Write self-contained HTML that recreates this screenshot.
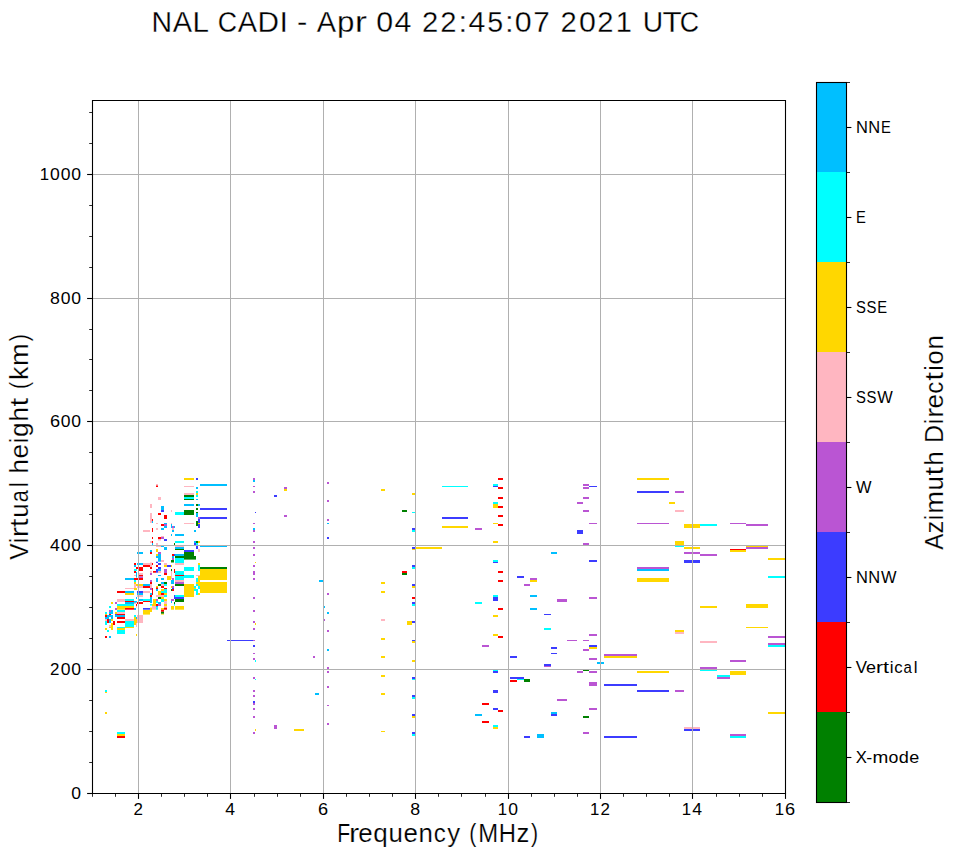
<!DOCTYPE html>
<html><head><meta charset="utf-8"><style>
html,body{margin:0;padding:0;background:#fff;overflow:hidden}
svg{display:block}
text{font-family:"Liberation Sans",sans-serif;fill:#000}
</style></head><body>
<svg width="958" height="857" viewBox="0 0 958 857">
<rect width="958" height="857" fill="#fff"/>
<rect x="184.0" y="478.0" width="10.0" height="2.0" fill="#ffd700"/>
<rect x="196.0" y="478.0" width="2.0" height="2.0" fill="#3c3cff"/>
<rect x="200.0" y="484.0" width="27.0" height="2.0" fill="#00bfff"/>
<rect x="156.0" y="484.0" width="2.0" height="1.5" fill="#ffb6c1"/>
<rect x="156.0" y="485.5" width="2.0" height="1.5" fill="#ff0000"/>
<rect x="184.0" y="486.0" width="10.0" height="1.0" fill="#ffb6c1"/>
<rect x="196.0" y="487.0" width="2.0" height="2.0" fill="#00bfff"/>
<rect x="196.0" y="491.0" width="2.0" height="2.0" fill="#00ffff"/>
<rect x="184.0" y="493.0" width="10.0" height="2.0" fill="#ffb6c1"/>
<rect x="196.0" y="493.0" width="2.0" height="2.0" fill="#ffd700"/>
<rect x="184.0" y="495.0" width="10.0" height="2.0" fill="#008000"/>
<rect x="196.0" y="495.0" width="2.0" height="2.0" fill="#00ffff"/>
<rect x="158.0" y="497.0" width="3.0" height="3.0" fill="#ffb6c1"/>
<rect x="184.0" y="497.0" width="10.0" height="2.0" fill="#00ffff"/>
<rect x="184.0" y="499.0" width="10.0" height="1.0" fill="#008000"/>
<rect x="196.0" y="499.0" width="2.0" height="1.0" fill="#00bfff"/>
<rect x="150.0" y="504.0" width="2.0" height="4.0" fill="#ffb6c1"/>
<rect x="184.0" y="504.0" width="10.0" height="2.0" fill="#00bfff"/>
<rect x="196.0" y="504.0" width="2.0" height="2.0" fill="#008000"/>
<rect x="198.0" y="504.0" width="2.0" height="2.0" fill="#00bfff"/>
<rect x="161.0" y="506.0" width="3.0" height="4.0" fill="#00bfff"/>
<rect x="161.0" y="510.0" width="3.0" height="2.0" fill="#3c3cff"/>
<rect x="196.0" y="508.0" width="2.0" height="2.0" fill="#008000"/>
<rect x="200.0" y="508.0" width="27.0" height="2.0" fill="#3c3cff"/>
<rect x="171.0" y="510.0" width="1.0" height="2.0" fill="#ffb6c1"/>
<rect x="184.0" y="510.0" width="10.0" height="5.0" fill="#008000"/>
<rect x="175.0" y="512.0" width="9.0" height="3.0" fill="#00ffff"/>
<rect x="158.0" y="513.0" width="3.0" height="2.0" fill="#ff0000"/>
<rect x="196.0" y="512.0" width="2.0" height="1.0" fill="#008000"/>
<rect x="196.0" y="513.0" width="2.0" height="4.0" fill="#00bfff"/>
<rect x="150.0" y="513.0" width="2.0" height="10.0" fill="#ffb6c1"/>
<rect x="164.0" y="515.0" width="3.0" height="4.0" fill="#ff0000"/>
<rect x="152.0" y="519.0" width="1.0" height="2.0" fill="#ff0000"/>
<rect x="152.0" y="521.0" width="1.0" height="2.0" fill="#00bfff"/>
<rect x="198.0" y="517.0" width="2.0" height="2.0" fill="#ba55d3"/>
<rect x="200.0" y="517.0" width="27.0" height="2.0" fill="#3c3cff"/>
<rect x="198.0" y="519.0" width="2.0" height="9.0" fill="#3c3cff"/>
<rect x="196.0" y="521.0" width="2.0" height="5.0" fill="#008000"/>
<rect x="198.0" y="523.0" width="2.0" height="1.0" fill="#ffd700"/>
<rect x="156.0" y="523.0" width="2.0" height="1.0" fill="#ffb6c1"/>
<rect x="184.0" y="523.0" width="10.0" height="1.0" fill="#ffb6c1"/>
<rect x="171.0" y="523.0" width="1.0" height="1.0" fill="#ffb6c1"/>
<rect x="161.0" y="524.0" width="3.0" height="2.0" fill="#ff0000"/>
<rect x="164.0" y="523.0" width="3.0" height="5.0" fill="#00bfff"/>
<rect x="164.0" y="524.0" width="3.0" height="2.0" fill="#ba55d3"/>
<rect x="171.0" y="524.0" width="1.0" height="4.0" fill="#00bfff"/>
<rect x="172.0" y="526.0" width="2.0" height="2.0" fill="#ba55d3"/>
<rect x="174.0" y="526.0" width="1.0" height="2.0" fill="#00bfff"/>
<rect x="172.0" y="528.0" width="2.0" height="2.0" fill="#ffb6c1"/>
<rect x="161.0" y="528.0" width="3.0" height="2.0" fill="#00bfff"/>
<rect x="156.0" y="528.0" width="2.0" height="2.0" fill="#ffb6c1"/>
<rect x="152.0" y="528.0" width="1.0" height="4.0" fill="#ff0000"/>
<rect x="143.0" y="530.0" width="7.0" height="2.0" fill="#ffb6c1"/>
<rect x="172.0" y="530.0" width="2.0" height="2.0" fill="#00bfff"/>
<rect x="194.0" y="530.0" width="2.0" height="2.0" fill="#00bfff"/>
<rect x="171.0" y="534.0" width="1.0" height="2.0" fill="#00bfff"/>
<rect x="175.0" y="534.0" width="9.0" height="2.0" fill="#00bfff"/>
<rect x="161.0" y="536.0" width="3.0" height="1.0" fill="#ffb6c1"/>
<rect x="152.0" y="537.0" width="1.0" height="2.0" fill="#ff0000"/>
<rect x="158.0" y="537.0" width="3.0" height="2.0" fill="#ff0000"/>
<rect x="161.0" y="537.0" width="3.0" height="2.0" fill="#ba55d3"/>
<rect x="164.0" y="539.0" width="3.0" height="1.0" fill="#3c3cff"/>
<rect x="381.0" y="489.0" width="4.0" height="2.0" fill="#ffd700"/>
<rect x="412.0" y="493.0" width="3.0" height="2.0" fill="#ffd700"/>
<rect x="402.0" y="510.0" width="5.0" height="2.0" fill="#008000"/>
<rect x="412.0" y="512.0" width="3.0" height="1.0" fill="#00ffff"/>
<rect x="442.0" y="486.0" width="26.0" height="1.0" fill="#00ffff"/>
<rect x="442.0" y="517.0" width="26.0" height="2.0" fill="#3c3cff"/>
<rect x="442.0" y="526.0" width="26.0" height="2.0" fill="#ffd700"/>
<rect x="412.0" y="528.0" width="3.0" height="2.0" fill="#3c3cff"/>
<rect x="412.0" y="530.0" width="3.0" height="2.0" fill="#00ffff"/>
<rect x="412.0" y="547.0" width="3.0" height="2.0" fill="#3c3cff"/>
<rect x="412.0" y="549.0" width="3.0" height="1.0" fill="#ffd700"/>
<rect x="416.0" y="547.0" width="26.0" height="2.0" fill="#ffd700"/>
<rect x="412.0" y="565.0" width="3.0" height="2.0" fill="#3c3cff"/>
<rect x="412.0" y="567.0" width="3.0" height="2.0" fill="#00ffff"/>
<rect x="402.0" y="571.0" width="5.0" height="2.0" fill="#ff0000"/>
<rect x="402.0" y="573.0" width="5.0" height="2.0" fill="#008000"/>
<rect x="381.0" y="582.0" width="4.0" height="2.0" fill="#ffd700"/>
<rect x="381.0" y="591.0" width="4.0" height="2.0" fill="#ffd700"/>
<rect x="381.0" y="638.0" width="4.0" height="2.0" fill="#ffd700"/>
<rect x="381.0" y="656.0" width="4.0" height="2.0" fill="#ffd700"/>
<rect x="381.0" y="675.0" width="4.0" height="2.0" fill="#ffd700"/>
<rect x="381.0" y="619.0" width="4.0" height="2.0" fill="#ffb6c1"/>
<rect x="412.0" y="584.0" width="3.0" height="2.0" fill="#3c3cff"/>
<rect x="412.0" y="586.0" width="3.0" height="2.0" fill="#ffd700"/>
<rect x="412.0" y="597.0" width="3.0" height="2.0" fill="#ff0000"/>
<rect x="412.0" y="602.0" width="3.0" height="2.0" fill="#3c3cff"/>
<rect x="412.0" y="604.0" width="3.0" height="2.0" fill="#00ffff"/>
<rect x="412.0" y="621.0" width="3.0" height="2.0" fill="#3c3cff"/>
<rect x="407.0" y="621.0" width="5.0" height="4.0" fill="#ffd700"/>
<rect x="412.0" y="640.0" width="3.0" height="1.0" fill="#3c3cff"/>
<rect x="412.0" y="641.0" width="3.0" height="2.0" fill="#ffd700"/>
<rect x="412.0" y="660.0" width="3.0" height="2.0" fill="#ffd700"/>
<rect x="412.0" y="677.0" width="3.0" height="2.0" fill="#3c3cff"/>
<rect x="412.0" y="679.0" width="3.0" height="1.0" fill="#00ffff"/>
<rect x="381.0" y="693.0" width="4.0" height="2.0" fill="#ffd700"/>
<rect x="381.0" y="731.0" width="4.0" height="1.0" fill="#ffd700"/>
<rect x="412.0" y="695.0" width="3.0" height="2.0" fill="#3c3cff"/>
<rect x="412.0" y="697.0" width="3.0" height="2.0" fill="#00ffff"/>
<rect x="412.0" y="714.0" width="3.0" height="2.0" fill="#3c3cff"/>
<rect x="412.0" y="716.0" width="3.0" height="2.0" fill="#ffd700"/>
<rect x="412.0" y="732.0" width="3.0" height="2.0" fill="#3c3cff"/>
<rect x="412.0" y="734.0" width="3.0" height="2.0" fill="#00ffff"/>
<rect x="498.0" y="478.0" width="5.0" height="2.0" fill="#ff0000"/>
<rect x="498.0" y="487.0" width="5.0" height="2.0" fill="#ff0000"/>
<rect x="498.0" y="497.0" width="5.0" height="2.0" fill="#ff0000"/>
<rect x="498.0" y="506.0" width="5.0" height="2.0" fill="#ff0000"/>
<rect x="498.0" y="515.0" width="5.0" height="2.0" fill="#ff0000"/>
<rect x="498.0" y="524.0" width="5.0" height="2.0" fill="#ff0000"/>
<rect x="498.0" y="571.0" width="5.0" height="2.0" fill="#ff0000"/>
<rect x="493.0" y="484.0" width="5.0" height="2.0" fill="#00ffff"/>
<rect x="493.0" y="486.0" width="5.0" height="1.0" fill="#3c3cff"/>
<rect x="493.0" y="502.0" width="5.0" height="2.0" fill="#00ffff"/>
<rect x="493.0" y="504.0" width="5.0" height="4.0" fill="#ffd700"/>
<rect x="493.0" y="523.0" width="5.0" height="1.0" fill="#ffd700"/>
<rect x="493.0" y="541.0" width="5.0" height="2.0" fill="#ffd700"/>
<rect x="493.0" y="560.0" width="5.0" height="2.0" fill="#00ffff"/>
<rect x="493.0" y="562.0" width="5.0" height="1.0" fill="#3c3cff"/>
<rect x="475.0" y="528.0" width="7.0" height="2.0" fill="#ba55d3"/>
<rect x="583.0" y="484.0" width="6.0" height="2.0" fill="#ba55d3"/>
<rect x="583.0" y="487.0" width="6.0" height="2.0" fill="#ba55d3"/>
<rect x="583.0" y="497.0" width="6.0" height="2.0" fill="#ba55d3"/>
<rect x="583.0" y="510.0" width="6.0" height="2.0" fill="#ba55d3"/>
<rect x="583.0" y="543.0" width="6.0" height="2.0" fill="#ba55d3"/>
<rect x="589.0" y="486.0" width="8.0" height="1.0" fill="#3c3cff"/>
<rect x="577.0" y="502.0" width="6.0" height="2.0" fill="#ba55d3"/>
<rect x="589.0" y="523.0" width="8.0" height="1.0" fill="#ba55d3"/>
<rect x="577.0" y="530.0" width="6.0" height="4.0" fill="#3c3cff"/>
<rect x="551.0" y="552.0" width="6.0" height="2.0" fill="#00bfff"/>
<rect x="589.0" y="560.0" width="8.0" height="2.0" fill="#3c3cff"/>
<rect x="517.0" y="576.0" width="7.0" height="2.0" fill="#3c3cff"/>
<rect x="530.0" y="578.0" width="7.0" height="2.0" fill="#ba55d3"/>
<rect x="530.0" y="580.0" width="7.0" height="2.0" fill="#ffd700"/>
<rect x="498.0" y="580.0" width="5.0" height="2.0" fill="#ff0000"/>
<rect x="524.0" y="584.0" width="6.0" height="2.0" fill="#ba55d3"/>
<rect x="493.0" y="595.0" width="5.0" height="2.0" fill="#00ffff"/>
<rect x="493.0" y="597.0" width="5.0" height="4.0" fill="#3c3cff"/>
<rect x="475.0" y="602.0" width="7.0" height="2.0" fill="#00ffff"/>
<rect x="530.0" y="595.0" width="7.0" height="2.0" fill="#00bfff"/>
<rect x="557.0" y="599.0" width="10.0" height="3.0" fill="#ba55d3"/>
<rect x="589.0" y="597.0" width="8.0" height="2.0" fill="#ba55d3"/>
<rect x="498.0" y="608.0" width="5.0" height="2.0" fill="#ff0000"/>
<rect x="530.0" y="608.0" width="7.0" height="2.0" fill="#00bfff"/>
<rect x="544.0" y="614.0" width="7.0" height="1.0" fill="#3c3cff"/>
<rect x="493.0" y="615.0" width="5.0" height="2.0" fill="#ffd700"/>
<rect x="544.0" y="628.0" width="7.0" height="2.0" fill="#00ffff"/>
<rect x="493.0" y="634.0" width="5.0" height="2.0" fill="#ffd700"/>
<rect x="498.0" y="636.0" width="5.0" height="2.0" fill="#ff0000"/>
<rect x="589.0" y="634.0" width="8.0" height="2.0" fill="#ba55d3"/>
<rect x="567.0" y="640.0" width="10.0" height="1.0" fill="#ba55d3"/>
<rect x="583.0" y="640.0" width="6.0" height="1.0" fill="#ba55d3"/>
<rect x="482.0" y="645.0" width="7.0" height="2.0" fill="#ba55d3"/>
<rect x="551.0" y="647.0" width="6.0" height="2.0" fill="#3c3cff"/>
<rect x="589.0" y="645.0" width="8.0" height="2.0" fill="#3c3cff"/>
<rect x="589.0" y="647.0" width="8.0" height="2.0" fill="#ffd700"/>
<rect x="583.0" y="649.0" width="6.0" height="2.0" fill="#ba55d3"/>
<rect x="551.0" y="653.0" width="6.0" height="1.0" fill="#3c3cff"/>
<rect x="510.0" y="656.0" width="7.0" height="2.0" fill="#3c3cff"/>
<rect x="589.0" y="658.0" width="8.0" height="2.0" fill="#ba55d3"/>
<rect x="544.0" y="664.0" width="7.0" height="2.0" fill="#3c3cff"/>
<rect x="544.0" y="666.0" width="7.0" height="1.0" fill="#ba55d3"/>
<rect x="493.0" y="670.0" width="5.0" height="1.0" fill="#00ffff"/>
<rect x="493.0" y="671.0" width="5.0" height="2.0" fill="#3c3cff"/>
<rect x="577.0" y="671.0" width="6.0" height="2.0" fill="#ba55d3"/>
<rect x="583.0" y="670.0" width="6.0" height="1.0" fill="#008000"/>
<rect x="589.0" y="671.0" width="8.0" height="2.0" fill="#ba55d3"/>
<rect x="510.0" y="677.0" width="14.0" height="2.0" fill="#3c3cff"/>
<rect x="517.0" y="679.0" width="7.0" height="1.0" fill="#00ffff"/>
<rect x="510.0" y="680.0" width="7.0" height="2.0" fill="#ff0000"/>
<rect x="524.0" y="679.0" width="6.0" height="3.0" fill="#008000"/>
<rect x="589.0" y="682.0" width="8.0" height="4.0" fill="#ba55d3"/>
<rect x="493.0" y="690.0" width="5.0" height="3.0" fill="#3c3cff"/>
<rect x="557.0" y="699.0" width="10.0" height="2.0" fill="#ba55d3"/>
<rect x="482.0" y="703.0" width="7.0" height="2.0" fill="#ff0000"/>
<rect x="493.0" y="708.0" width="5.0" height="2.0" fill="#3c3cff"/>
<rect x="498.0" y="710.0" width="5.0" height="2.0" fill="#ff0000"/>
<rect x="589.0" y="708.0" width="8.0" height="2.0" fill="#ba55d3"/>
<rect x="475.0" y="714.0" width="7.0" height="2.0" fill="#00bfff"/>
<rect x="551.0" y="712.0" width="6.0" height="2.0" fill="#00bfff"/>
<rect x="551.0" y="714.0" width="6.0" height="2.0" fill="#3c3cff"/>
<rect x="583.0" y="716.0" width="6.0" height="2.0" fill="#008000"/>
<rect x="482.0" y="721.0" width="7.0" height="2.0" fill="#ff0000"/>
<rect x="493.0" y="725.0" width="5.0" height="2.0" fill="#00ffff"/>
<rect x="493.0" y="727.0" width="5.0" height="2.0" fill="#ffd700"/>
<rect x="583.0" y="732.0" width="6.0" height="2.0" fill="#ba55d3"/>
<rect x="524.0" y="736.0" width="6.0" height="2.0" fill="#3c3cff"/>
<rect x="537.0" y="734.0" width="7.0" height="4.0" fill="#00bfff"/>
<rect x="637.0" y="478.0" width="32.0" height="2.0" fill="#ffd700"/>
<rect x="637.0" y="491.0" width="32.0" height="2.0" fill="#3c3cff"/>
<rect x="675.0" y="491.0" width="9.0" height="2.0" fill="#ba55d3"/>
<rect x="669.0" y="502.0" width="6.0" height="2.0" fill="#ffd700"/>
<rect x="675.0" y="510.0" width="9.0" height="2.0" fill="#ffb6c1"/>
<rect x="637.0" y="523.0" width="32.0" height="1.0" fill="#ba55d3"/>
<rect x="684.0" y="524.0" width="16.0" height="4.0" fill="#ffd700"/>
<rect x="700.0" y="524.0" width="17.0" height="2.0" fill="#00ffff"/>
<rect x="675.0" y="541.0" width="9.0" height="4.0" fill="#ffd700"/>
<rect x="675.0" y="545.0" width="9.0" height="2.0" fill="#00ffff"/>
<rect x="684.0" y="547.0" width="16.0" height="2.0" fill="#ffd700"/>
<rect x="684.0" y="552.0" width="16.0" height="2.0" fill="#ba55d3"/>
<rect x="700.0" y="554.0" width="17.0" height="2.0" fill="#ba55d3"/>
<rect x="684.0" y="560.0" width="16.0" height="3.0" fill="#3c3cff"/>
<rect x="637.0" y="567.0" width="32.0" height="2.0" fill="#ba55d3"/>
<rect x="637.0" y="569.0" width="32.0" height="2.0" fill="#00bfff"/>
<rect x="637.0" y="578.0" width="32.0" height="4.0" fill="#ffd700"/>
<rect x="700.0" y="606.0" width="17.0" height="2.0" fill="#ffd700"/>
<rect x="675.0" y="630.0" width="9.0" height="2.0" fill="#ffd700"/>
<rect x="675.0" y="632.0" width="9.0" height="2.0" fill="#ffb6c1"/>
<rect x="700.0" y="641.0" width="17.0" height="2.0" fill="#ffb6c1"/>
<rect x="604.0" y="654.0" width="33.0" height="2.0" fill="#ba55d3"/>
<rect x="604.0" y="656.0" width="33.0" height="2.0" fill="#ffd700"/>
<rect x="597.0" y="662.0" width="7.0" height="2.0" fill="#00bfff"/>
<rect x="700.0" y="667.0" width="17.0" height="2.0" fill="#ba55d3"/>
<rect x="700.0" y="669.0" width="17.0" height="2.0" fill="#00ffff"/>
<rect x="637.0" y="671.0" width="32.0" height="2.0" fill="#ffd700"/>
<rect x="717.0" y="675.0" width="13.0" height="2.0" fill="#00ffff"/>
<rect x="717.0" y="677.0" width="13.0" height="2.0" fill="#ba55d3"/>
<rect x="604.0" y="684.0" width="33.0" height="2.0" fill="#3c3cff"/>
<rect x="637.0" y="690.0" width="32.0" height="2.0" fill="#3c3cff"/>
<rect x="675.0" y="690.0" width="9.0" height="2.0" fill="#ba55d3"/>
<rect x="684.0" y="727.0" width="16.0" height="2.0" fill="#ffb6c1"/>
<rect x="684.0" y="729.0" width="16.0" height="2.0" fill="#3c3cff"/>
<rect x="604.0" y="736.0" width="33.0" height="2.0" fill="#3c3cff"/>
<rect x="730.0" y="523.0" width="16.0" height="1.0" fill="#ba55d3"/>
<rect x="746.0" y="524.0" width="22.0" height="2.0" fill="#ba55d3"/>
<rect x="746.0" y="546.0" width="22.0" height="1.0" fill="#ffd700"/>
<rect x="746.0" y="547.0" width="22.0" height="2.0" fill="#ba55d3"/>
<rect x="730.0" y="549.0" width="16.0" height="1.0" fill="#ff0000"/>
<rect x="730.0" y="550.0" width="16.0" height="2.0" fill="#ffd700"/>
<rect x="768.0" y="558.0" width="17.0" height="2.0" fill="#ffd700"/>
<rect x="768.0" y="576.0" width="17.0" height="2.0" fill="#00ffff"/>
<rect x="152.0" y="538.0" width="1.0" height="1.0" fill="#ff0000"/>
<rect x="152.0" y="541.0" width="1.0" height="2.0" fill="#ff0000"/>
<rect x="152.0" y="543.0" width="1.0" height="2.0" fill="#00bfff"/>
<rect x="150.0" y="541.0" width="2.0" height="2.0" fill="#ffb6c1"/>
<rect x="158.0" y="539.0" width="3.0" height="1.5" fill="#ffb6c1"/>
<rect x="164.0" y="539.0" width="3.0" height="2.0" fill="#3c3cff"/>
<rect x="156.0" y="543.0" width="2.0" height="2.0" fill="#ffb6c1"/>
<rect x="175.0" y="541.0" width="9.0" height="2.0" fill="#00ffff"/>
<rect x="174.0" y="543.0" width="1.0" height="2.0" fill="#008000"/>
<rect x="194.0" y="541.0" width="2.0" height="2.0" fill="#00bfff"/>
<rect x="196.0" y="541.0" width="2.0" height="2.0" fill="#008000"/>
<rect x="198.0" y="541.0" width="2.0" height="2.0" fill="#ffd700"/>
<rect x="194.0" y="543.0" width="2.0" height="2.0" fill="#3c3cff"/>
<rect x="196.0" y="543.0" width="2.0" height="2.0" fill="#00ffff"/>
<rect x="156.0" y="546.0" width="5.0" height="1.0" fill="#ffb6c1"/>
<rect x="161.0" y="546.0" width="3.0" height="1.0" fill="#00bfff"/>
<rect x="164.0" y="547.0" width="3.0" height="3.0" fill="#00bfff"/>
<rect x="175.0" y="546.0" width="9.0" height="1.0" fill="#ffb6c1"/>
<rect x="175.0" y="547.0" width="9.0" height="2.0" fill="#00bfff"/>
<rect x="175.0" y="549.0" width="9.0" height="1.0" fill="#008000"/>
<rect x="196.0" y="546.0" width="2.0" height="3.0" fill="#3c3cff"/>
<rect x="200.0" y="546.0" width="27.0" height="1.0" fill="#00bfff"/>
<rect x="198.0" y="549.0" width="2.0" height="3.0" fill="#ffb6c1"/>
<rect x="184.0" y="550.0" width="10.0" height="2.0" fill="#3c3cff"/>
<rect x="184.0" y="552.0" width="10.0" height="4.0" fill="#008000"/>
<rect x="184.0" y="556.0" width="12.0" height="3.6" fill="#008000"/>
<rect x="156.0" y="549.0" width="2.0" height="3.0" fill="#ffd700"/>
<rect x="150.0" y="550.0" width="2.0" height="2.0" fill="#00bfff"/>
<rect x="137.0" y="552.0" width="6.0" height="2.0" fill="#00bfff"/>
<rect x="150.0" y="552.0" width="2.0" height="2.0" fill="#ff0000"/>
<rect x="158.0" y="552.0" width="3.0" height="2.0" fill="#ba55d3"/>
<rect x="156.0" y="554.0" width="2.0" height="2.0" fill="#ffd700"/>
<rect x="158.0" y="554.0" width="3.0" height="7.7" fill="#00bfff"/>
<rect x="156.0" y="556.0" width="2.0" height="2.0" fill="#00bfff"/>
<rect x="172.0" y="554.0" width="2.0" height="2.0" fill="#ff0000"/>
<rect x="174.0" y="554.0" width="1.0" height="2.0" fill="#3c3cff"/>
<rect x="175.0" y="554.0" width="9.0" height="2.0" fill="#00bfff"/>
<rect x="172.0" y="556.0" width="2.0" height="2.0" fill="#00bfff"/>
<rect x="175.0" y="556.0" width="9.0" height="2.0" fill="#008000"/>
<rect x="172.0" y="558.0" width="2.0" height="2.0" fill="#ba55d3"/>
<rect x="171.0" y="560.0" width="3.0" height="2.5" fill="#008000"/>
<rect x="175.0" y="558.0" width="9.0" height="5.0" fill="#00ffff"/>
<rect x="175.0" y="563.0" width="9.0" height="2.0" fill="#ffb6c1"/>
<rect x="161.0" y="560.0" width="3.0" height="2.0" fill="#ffb6c1"/>
<rect x="134.0" y="563.0" width="2.0" height="2.0" fill="#ff0000"/>
<rect x="137.0" y="563.0" width="6.0" height="2.0" fill="#00bfff"/>
<rect x="143.0" y="563.0" width="7.0" height="2.0" fill="#ffb6c1"/>
<rect x="150.0" y="562.5" width="2.0" height="4.5" fill="#ffb6c1"/>
<rect x="152.0" y="563.0" width="1.0" height="2.0" fill="#ff0000"/>
<rect x="143.0" y="565.0" width="7.0" height="2.0" fill="#ff0000"/>
<rect x="134.0" y="565.0" width="2.0" height="2.0" fill="#00bfff"/>
<rect x="156.0" y="561.7" width="2.0" height="1.3" fill="#3c3cff"/>
<rect x="158.0" y="563.0" width="3.0" height="2.0" fill="#3c3cff"/>
<rect x="164.0" y="563.0" width="3.0" height="2.0" fill="#ffb6c1"/>
<rect x="156.0" y="565.0" width="2.0" height="2.0" fill="#ff0000"/>
<rect x="164.0" y="565.0" width="3.0" height="2.0" fill="#ffd700"/>
<rect x="167.0" y="565.0" width="4.0" height="2.0" fill="#3c3cff"/>
<rect x="171.0" y="565.0" width="1.0" height="2.0" fill="#ffd700"/>
<rect x="139.0" y="567.0" width="4.0" height="4.0" fill="#ff0000"/>
<rect x="136.0" y="567.0" width="3.0" height="2.0" fill="#ff0000"/>
<rect x="150.0" y="567.0" width="2.0" height="2.0" fill="#ff0000"/>
<rect x="158.0" y="567.0" width="3.0" height="2.0" fill="#3c3cff"/>
<rect x="134.0" y="569.0" width="3.0" height="2.0" fill="#00ffff"/>
<rect x="156.0" y="569.0" width="2.0" height="3.7" fill="#3c3cff"/>
<rect x="158.0" y="569.0" width="3.0" height="2.0" fill="#00bfff"/>
<rect x="158.0" y="571.0" width="3.0" height="2.0" fill="#ffb6c1"/>
<rect x="164.0" y="569.0" width="3.0" height="4.0" fill="#ba55d3"/>
<rect x="164.0" y="573.0" width="3.0" height="2.0" fill="#ff0000"/>
<rect x="153.0" y="571.0" width="3.0" height="1.7" fill="#ff0000"/>
<rect x="134.0" y="571.0" width="2.0" height="2.0" fill="#ff0000"/>
<rect x="150.0" y="571.0" width="2.0" height="1.7" fill="#ffb6c1"/>
<rect x="150.0" y="573.0" width="2.0" height="2.0" fill="#ba55d3"/>
<rect x="171.0" y="569.0" width="1.0" height="2.0" fill="#008000"/>
<rect x="174.0" y="569.0" width="1.0" height="4.0" fill="#ff0000"/>
<rect x="171.0" y="571.0" width="1.0" height="8.0" fill="#ffb6c1"/>
<rect x="184.0" y="567.0" width="10.0" height="4.0" fill="#00ffff"/>
<rect x="175.0" y="571.0" width="9.0" height="4.0" fill="#00ffff"/>
<rect x="198.0" y="565.0" width="2.0" height="6.0" fill="#00ffff"/>
<rect x="198.0" y="563.0" width="2.0" height="2.0" fill="#ffd700"/>
<rect x="200.0" y="567.0" width="27.0" height="2.0" fill="#008000"/>
<rect x="200.0" y="569.0" width="27.0" height="11.0" fill="#ffd700"/>
<rect x="200.0" y="582.0" width="27.0" height="11.0" fill="#ffd700"/>
<rect x="139.0" y="573.0" width="4.0" height="2.0" fill="#ffb6c1"/>
<rect x="139.0" y="575.0" width="4.0" height="1.5" fill="#ff0000"/>
<rect x="139.0" y="576.5" width="4.0" height="1.5" fill="#ba55d3"/>
<rect x="134.0" y="578.0" width="9.0" height="2.0" fill="#ff0000"/>
<rect x="132.0" y="578.0" width="2.0" height="2.0" fill="#00bfff"/>
<rect x="134.0" y="575.0" width="2.0" height="1.0" fill="#ffb6c1"/>
<rect x="158.0" y="575.0" width="3.0" height="1.0" fill="#00bfff"/>
<rect x="167.0" y="576.0" width="4.0" height="4.0" fill="#ffd700"/>
<rect x="156.0" y="578.0" width="2.0" height="4.0" fill="#00bfff"/>
<rect x="161.0" y="578.0" width="3.0" height="2.0" fill="#00bfff"/>
<rect x="172.0" y="578.0" width="2.0" height="2.0" fill="#ba55d3"/>
<rect x="171.0" y="580.0" width="3.0" height="4.0" fill="#00bfff"/>
<rect x="175.0" y="575.0" width="9.0" height="1.0" fill="#ff0000"/>
<rect x="175.0" y="576.0" width="9.0" height="4.0" fill="#00ffff"/>
<rect x="184.0" y="575.0" width="10.0" height="3.0" fill="#00ffff"/>
<rect x="196.0" y="575.0" width="4.0" height="1.0" fill="#ffb6c1"/>
<rect x="196.0" y="578.0" width="2.0" height="4.0" fill="#00ffff"/>
<rect x="175.0" y="580.0" width="9.0" height="2.0" fill="#ffb6c1"/>
<rect x="175.0" y="582.0" width="9.0" height="2.0" fill="#ba55d3"/>
<rect x="175.0" y="584.0" width="9.0" height="2.0" fill="#008000"/>
<rect x="134.0" y="580.0" width="2.0" height="2.0" fill="#00ffff"/>
<rect x="134.0" y="582.0" width="2.0" height="2.0" fill="#ffd700"/>
<rect x="134.0" y="584.0" width="2.0" height="4.0" fill="#ffb6c1"/>
<rect x="136.0" y="584.0" width="7.0" height="2.0" fill="#ffd700"/>
<rect x="143.0" y="584.0" width="7.0" height="2.0" fill="#00bfff"/>
<rect x="139.0" y="586.0" width="4.0" height="2.0" fill="#ffb6c1"/>
<rect x="143.0" y="586.0" width="7.0" height="2.0" fill="#ff0000"/>
<rect x="150.0" y="580.0" width="2.0" height="2.0" fill="#ba55d3"/>
<rect x="150.0" y="582.0" width="2.0" height="2.0" fill="#ff0000"/>
<rect x="150.0" y="584.0" width="2.0" height="4.0" fill="#ffb6c1"/>
<rect x="161.0" y="582.0" width="3.0" height="2.0" fill="#00bfff"/>
<rect x="164.0" y="582.0" width="3.0" height="2.0" fill="#008000"/>
<rect x="158.0" y="584.0" width="3.0" height="2.0" fill="#008000"/>
<rect x="161.0" y="584.0" width="3.0" height="2.0" fill="#ffb6c1"/>
<rect x="164.0" y="584.0" width="3.0" height="2.0" fill="#00ffff"/>
<rect x="156.0" y="586.0" width="2.0" height="2.0" fill="#ffd700"/>
<rect x="161.0" y="586.0" width="3.0" height="2.0" fill="#ff0000"/>
<rect x="184.0" y="584.0" width="10.0" height="13.0" fill="#ffd700"/>
<rect x="134.0" y="588.0" width="3.0" height="2.0" fill="#ffd700"/>
<rect x="150.0" y="588.0" width="2.0" height="2.0" fill="#ba55d3"/>
<rect x="152.0" y="588.0" width="1.0" height="7.0" fill="#ff0000"/>
<rect x="156.0" y="587.5" width="2.0" height="1.5" fill="#ff0000"/>
<rect x="156.0" y="589.0" width="2.0" height="2.0" fill="#00bfff"/>
<rect x="161.0" y="589.0" width="3.0" height="2.0" fill="#ffd700"/>
<rect x="164.0" y="588.0" width="3.0" height="3.0" fill="#00ffff"/>
<rect x="171.0" y="589.0" width="1.0" height="2.0" fill="#008000"/>
<rect x="172.0" y="589.0" width="2.0" height="2.0" fill="#ff0000"/>
<rect x="172.0" y="586.0" width="2.0" height="2.0" fill="#ba55d3"/>
<rect x="171.0" y="586.0" width="1.0" height="2.0" fill="#ffd700"/>
<rect x="132.0" y="591.0" width="2.0" height="2.0" fill="#00bfff"/>
<rect x="132.0" y="593.0" width="2.0" height="2.0" fill="#ffd700"/>
<rect x="137.0" y="591.0" width="6.0" height="2.0" fill="#3c3cff"/>
<rect x="139.0" y="593.0" width="4.0" height="2.0" fill="#00bfff"/>
<rect x="143.0" y="591.0" width="7.0" height="2.0" fill="#ffb6c1"/>
<rect x="150.0" y="593.0" width="2.0" height="2.0" fill="#00bfff"/>
<rect x="158.0" y="591.0" width="3.0" height="4.0" fill="#ffd700"/>
<rect x="161.0" y="591.0" width="6.0" height="2.0" fill="#00ffff"/>
<rect x="161.0" y="593.0" width="3.0" height="2.0" fill="#ff0000"/>
<rect x="164.0" y="593.0" width="3.0" height="2.0" fill="#ffd700"/>
<rect x="139.0" y="595.0" width="4.0" height="2.0" fill="#ffb6c1"/>
<rect x="150.0" y="595.0" width="2.0" height="2.0" fill="#ff0000"/>
<rect x="156.0" y="595.0" width="8.0" height="2.0" fill="#ffb6c1"/>
<rect x="164.0" y="595.0" width="3.0" height="2.0" fill="#00ffff"/>
<rect x="158.0" y="597.0" width="3.0" height="2.0" fill="#008000"/>
<rect x="161.0" y="597.0" width="3.0" height="2.0" fill="#ffd700"/>
<rect x="175.0" y="595.0" width="9.0" height="2.0" fill="#00ffff"/>
<rect x="175.0" y="597.0" width="9.0" height="2.0" fill="#3c3cff"/>
<rect x="175.0" y="599.0" width="9.0" height="3.0" fill="#008000"/>
<rect x="174.0" y="595.0" width="1.0" height="4.0" fill="#3c3cff"/>
<rect x="132.0" y="599.0" width="2.0" height="2.0" fill="#00ffff"/>
<rect x="139.0" y="599.0" width="4.0" height="2.0" fill="#00bfff"/>
<rect x="143.0" y="599.0" width="7.0" height="2.0" fill="#00ffff"/>
<rect x="132.0" y="601.0" width="4.0" height="1.0" fill="#ff0000"/>
<rect x="143.0" y="601.0" width="7.0" height="1.0" fill="#ff0000"/>
<rect x="150.0" y="597.0" width="2.0" height="6.0" fill="#00bfff"/>
<rect x="153.0" y="599.0" width="3.0" height="9.0" fill="#ffd700"/>
<rect x="156.0" y="599.0" width="2.0" height="2.0" fill="#ba55d3"/>
<rect x="156.0" y="601.0" width="2.0" height="2.0" fill="#00ffff"/>
<rect x="161.0" y="599.0" width="3.0" height="3.0" fill="#00ffff"/>
<rect x="164.0" y="599.0" width="3.0" height="2.0" fill="#ffd700"/>
<rect x="164.0" y="601.0" width="3.0" height="3.0" fill="#ffb6c1"/>
<rect x="171.0" y="599.0" width="3.0" height="2.0" fill="#ba55d3"/>
<rect x="171.0" y="601.0" width="1.0" height="2.0" fill="#00bfff"/>
<rect x="171.0" y="606.0" width="3.0" height="2.0" fill="#ffd700"/>
<rect x="175.0" y="606.0" width="9.0" height="2.0" fill="#ffd700"/>
<rect x="139.0" y="602.0" width="4.0" height="2.0" fill="#ff0000"/>
<rect x="132.0" y="602.0" width="2.0" height="6.0" fill="#00bfff"/>
<rect x="156.0" y="604.0" width="2.0" height="2.0" fill="#ff0000"/>
<rect x="158.0" y="604.0" width="3.0" height="2.0" fill="#ba55d3"/>
<rect x="158.0" y="602.0" width="3.0" height="2.0" fill="#00bfff"/>
<rect x="153.0" y="606.0" width="3.0" height="2.0" fill="#ffb6c1"/>
<rect x="174.0" y="602.0" width="1.0" height="2.0" fill="#008000"/>
<rect x="198.0" y="576.0" width="2.0" height="10.0" fill="#ffd700"/>
<rect x="196.0" y="582.0" width="2.0" height="2.0" fill="#ffd700"/>
<rect x="196.0" y="584.0" width="2.0" height="2.0" fill="#00ffff"/>
<rect x="194.0" y="586.0" width="2.0" height="2.0" fill="#00ffff"/>
<rect x="198.0" y="586.0" width="2.0" height="3.0" fill="#00ffff"/>
<rect x="194.0" y="588.0" width="2.0" height="1.0" fill="#ffd700"/>
<rect x="194.0" y="589.0" width="4.0" height="2.0" fill="#00ffff"/>
<rect x="196.0" y="591.0" width="2.0" height="4.0" fill="#00ffff"/>
<rect x="198.0" y="593.0" width="2.0" height="2.0" fill="#ffd700"/>
<rect x="164.0" y="588.0" width="3.0" height="1.0" fill="#ff0000"/>
<rect x="172.0" y="588.0" width="2.0" height="1.0" fill="#3c3cff"/>
<rect x="746.0" y="604.0" width="22.0" height="4.0" fill="#ffd700"/>
<rect x="746.0" y="627.0" width="22.0" height="1.0" fill="#ffd700"/>
<rect x="768.0" y="636.0" width="17.0" height="2.0" fill="#ba55d3"/>
<rect x="768.0" y="643.0" width="17.0" height="2.0" fill="#ba55d3"/>
<rect x="768.0" y="645.0" width="17.0" height="2.0" fill="#00ffff"/>
<rect x="730.0" y="660.0" width="16.0" height="2.0" fill="#ba55d3"/>
<rect x="730.0" y="671.0" width="16.0" height="4.0" fill="#ffd700"/>
<rect x="768.0" y="712.0" width="17.0" height="2.0" fill="#ffd700"/>
<rect x="730.0" y="734.0" width="16.0" height="2.0" fill="#ba55d3"/>
<rect x="730.0" y="736.0" width="16.0" height="2.0" fill="#00ffff"/>
<rect x="136.0" y="572.0" width="1.0" height="5.6" fill="#00bfff"/>
<rect x="137.0" y="586.0" width="2.0" height="2.0" fill="#ffb6c1"/>
<rect x="137.0" y="593.0" width="2.0" height="2.0" fill="#00bfff"/>
<rect x="137.0" y="595.0" width="2.0" height="2.0" fill="#ffb6c1"/>
<rect x="137.0" y="602.0" width="2.0" height="2.0" fill="#ff0000"/>
<rect x="117.0" y="617.0" width="8.0" height="2.0" fill="#ff0000"/>
<rect x="109.0" y="615.0" width="2.0" height="2.0" fill="#00bfff"/>
<rect x="109.0" y="627.0" width="2.0" height="1.0" fill="#ffd700"/>
<rect x="107.0" y="615.0" width="2.0" height="2.0" fill="#00ffff"/>
<rect x="109.0" y="606.0" width="2.0" height="1.6" fill="#00ffff"/>
<rect x="115.0" y="608.0" width="2.0" height="2.0" fill="#ba55d3"/>
<rect x="117.0" y="606.0" width="8.0" height="3.7" fill="#ffd700"/>
<rect x="125.0" y="606.0" width="9.0" height="1.6" fill="#ffd700"/>
<rect x="125.0" y="608.0" width="9.0" height="1.7" fill="#ff0000"/>
<rect x="134.0" y="608.0" width="2.0" height="2.0" fill="#00bfff"/>
<rect x="136.0" y="606.0" width="1.0" height="1.6" fill="#ffb6c1"/>
<rect x="109.0" y="610.0" width="2.0" height="2.0" fill="#ba55d3"/>
<rect x="111.0" y="610.0" width="2.0" height="2.0" fill="#00bfff"/>
<rect x="117.0" y="610.0" width="8.0" height="2.0" fill="#00ffff"/>
<rect x="105.0" y="612.0" width="2.0" height="2.0" fill="#00ffff"/>
<rect x="105.0" y="614.0" width="2.0" height="1.0" fill="#ffd700"/>
<rect x="105.0" y="615.0" width="2.0" height="2.0" fill="#ff0000"/>
<rect x="105.0" y="617.0" width="2.0" height="2.0" fill="#00bfff"/>
<rect x="105.0" y="619.0" width="2.0" height="2.0" fill="#ffb6c1"/>
<rect x="105.0" y="621.0" width="2.0" height="4.0" fill="#00ffff"/>
<rect x="109.0" y="612.0" width="4.0" height="2.0" fill="#00bfff"/>
<rect x="109.0" y="614.0" width="2.0" height="1.0" fill="#ff0000"/>
<rect x="117.0" y="612.0" width="8.0" height="2.0" fill="#ffb6c1"/>
<rect x="117.0" y="614.0" width="8.0" height="1.0" fill="#ff0000"/>
<rect x="115.0" y="612.0" width="2.0" height="2.0" fill="#ffd700"/>
<rect x="115.0" y="614.0" width="2.0" height="1.0" fill="#3c3cff"/>
<rect x="115.0" y="615.0" width="2.0" height="2.0" fill="#00bfff"/>
<rect x="117.0" y="615.0" width="8.0" height="2.0" fill="#00bfff"/>
<rect x="107.0" y="615.0" width="2.0" height="4.0" fill="#00bfff"/>
<rect x="111.0" y="615.0" width="2.0" height="4.0" fill="#00bfff"/>
<rect x="134.0" y="615.0" width="2.0" height="2.0" fill="#00ffff"/>
<rect x="134.0" y="617.0" width="2.0" height="8.0" fill="#ffd700"/>
<rect x="136.0" y="617.0" width="1.0" height="2.0" fill="#00bfff"/>
<rect x="137.0" y="615.0" width="6.0" height="8.0" fill="#ffb6c1"/>
<rect x="136.0" y="619.0" width="1.0" height="4.0" fill="#ffd700"/>
<rect x="136.0" y="623.0" width="1.0" height="4.0" fill="#ffb6c1"/>
<rect x="107.0" y="619.0" width="2.0" height="4.0" fill="#ff0000"/>
<rect x="109.0" y="619.0" width="2.0" height="4.0" fill="#00bfff"/>
<rect x="111.0" y="619.0" width="2.0" height="2.0" fill="#ffd700"/>
<rect x="111.0" y="623.0" width="2.0" height="7.0" fill="#ffd700"/>
<rect x="109.0" y="625.0" width="2.0" height="2.0" fill="#ffb6c1"/>
<rect x="113.0" y="621.0" width="2.0" height="4.0" fill="#ff0000"/>
<rect x="125.0" y="619.0" width="9.0" height="2.0" fill="#ffb6c1"/>
<rect x="117.0" y="621.0" width="8.0" height="2.0" fill="#ff0000"/>
<rect x="125.0" y="621.0" width="9.0" height="6.0" fill="#00ffff"/>
<rect x="125.0" y="627.0" width="9.0" height="1.0" fill="#ffd700"/>
<rect x="117.0" y="627.0" width="8.0" height="1.0" fill="#00ffff"/>
<rect x="117.0" y="628.0" width="8.0" height="2.0" fill="#ffd700"/>
<rect x="117.0" y="630.0" width="8.0" height="4.0" fill="#00ffff"/>
<rect x="105.0" y="628.0" width="2.0" height="2.0" fill="#ffd700"/>
<rect x="107.0" y="630.0" width="2.0" height="2.0" fill="#00ffff"/>
<rect x="105.0" y="636.0" width="2.0" height="2.0" fill="#ff0000"/>
<rect x="109.0" y="636.0" width="2.0" height="2.0" fill="#00bfff"/>
<rect x="136.0" y="634.0" width="1.0" height="2.0" fill="#ffd700"/>
<rect x="143.0" y="608.0" width="7.0" height="1.7" fill="#3c3cff"/>
<rect x="143.0" y="610.0" width="7.0" height="4.6" fill="#ffd700"/>
<rect x="150.0" y="607.6" width="2.0" height="4.4" fill="#ffd700"/>
<rect x="152.0" y="606.0" width="4.0" height="3.7" fill="#ffb6c1"/>
<rect x="156.0" y="606.0" width="2.0" height="1.6" fill="#00bfff"/>
<rect x="156.0" y="607.6" width="2.0" height="2.1" fill="#00ffff"/>
<rect x="125.0" y="578.0" width="7.0" height="2.0" fill="#00bfff"/>
<rect x="125.0" y="588.0" width="9.0" height="1.0" fill="#ffb6c1"/>
<rect x="117.0" y="591.0" width="8.0" height="2.0" fill="#ff0000"/>
<rect x="125.0" y="591.0" width="9.0" height="2.0" fill="#00bfff"/>
<rect x="125.0" y="593.0" width="9.0" height="2.0" fill="#ffd700"/>
<rect x="117.0" y="599.0" width="8.0" height="3.0" fill="#ffb6c1"/>
<rect x="125.0" y="599.0" width="9.0" height="2.0" fill="#00ffff"/>
<rect x="125.0" y="601.0" width="9.0" height="1.0" fill="#ff0000"/>
<rect x="125.0" y="602.0" width="9.0" height="2.0" fill="#00bfff"/>
<rect x="111.0" y="602.0" width="2.0" height="2.0" fill="#ffd700"/>
<rect x="115.0" y="602.0" width="2.0" height="2.0" fill="#ba55d3"/>
<rect x="117.0" y="604.0" width="17.0" height="2.0" fill="#00ffff"/>
<rect x="109.0" y="606.0" width="2.0" height="2.0" fill="#00ffff"/>
<rect x="117.0" y="606.0" width="17.0" height="2.0" fill="#ffd700"/>
<rect x="134.0" y="602.0" width="2.0" height="2.0" fill="#ffb6c1"/>
<rect x="134.0" y="601.0" width="3.0" height="1.6" fill="#00bfff"/>
<rect x="136.0" y="604.0" width="1.0" height="2.0" fill="#ff0000"/>
<rect x="136.0" y="597.0" width="1.0" height="2.0" fill="#00bfff"/>
<rect x="171.0" y="606.0" width="3.0" height="3.7" fill="#ffd700"/>
<rect x="175.0" y="606.0" width="9.0" height="3.7" fill="#ffd700"/>
<rect x="174.0" y="604.0" width="1.0" height="1.6" fill="#00ffff"/>
<rect x="164.0" y="604.0" width="3.0" height="2.0" fill="#ffd700"/>
<rect x="164.0" y="606.0" width="3.0" height="1.7" fill="#ffb6c1"/>
<rect x="164.0" y="607.7" width="3.0" height="2.0" fill="#ff0000"/>
<rect x="161.0" y="608.0" width="3.0" height="1.7" fill="#ffd700"/>
<rect x="161.0" y="609.7" width="3.0" height="2.1" fill="#ff0000"/>
<rect x="161.0" y="611.8" width="3.0" height="2.0" fill="#008000"/>
<rect x="161.0" y="613.8" width="3.0" height="0.8" fill="#ffd700"/>
<rect x="156.0" y="604.0" width="2.0" height="1.6" fill="#ff0000"/>
<rect x="158.0" y="604.0" width="3.0" height="1.6" fill="#ba55d3"/>
<rect x="152.0" y="604.0" width="4.0" height="2.0" fill="#ffd700"/>
<rect x="150.0" y="604.0" width="2.0" height="1.6" fill="#00ffff"/>
<rect x="105.0" y="690.0" width="2.0" height="2.0" fill="#00ffff"/>
<rect x="105.0" y="692.0" width="2.0" height="1.0" fill="#ffd700"/>
<rect x="105.0" y="712.0" width="2.0" height="2.0" fill="#ffd700"/>
<rect x="117.0" y="732.0" width="8.0" height="2.0" fill="#00ffff"/>
<rect x="117.0" y="734.0" width="8.0" height="2.0" fill="#ffd700"/>
<rect x="117.0" y="736.0" width="8.0" height="2.0" fill="#ff0000"/>
<rect x="253.0" y="478.0" width="2.0" height="2.0" fill="#ba55d3"/>
<rect x="253.0" y="480.0" width="2.0" height="2.0" fill="#00bfff"/>
<rect x="253.0" y="486.0" width="2.0" height="1.0" fill="#ba55d3"/>
<rect x="253.0" y="491.0" width="2.0" height="2.0" fill="#ba55d3"/>
<rect x="255.0" y="512.0" width="1.0" height="1.0" fill="#3c3cff"/>
<rect x="253.0" y="523.0" width="2.0" height="1.0" fill="#ba55d3"/>
<rect x="253.0" y="528.0" width="2.0" height="2.0" fill="#00bfff"/>
<rect x="253.0" y="530.0" width="2.0" height="2.0" fill="#ba55d3"/>
<rect x="253.0" y="541.0" width="2.0" height="2.0" fill="#ba55d3"/>
<rect x="253.0" y="547.0" width="2.0" height="2.0" fill="#ba55d3"/>
<rect x="253.0" y="554.0" width="2.0" height="2.0" fill="#ba55d3"/>
<rect x="255.0" y="562.0" width="1.0" height="1.0" fill="#ffd700"/>
<rect x="253.0" y="565.0" width="2.0" height="2.0" fill="#ba55d3"/>
<rect x="253.0" y="571.0" width="2.0" height="4.0" fill="#ba55d3"/>
<rect x="253.0" y="578.0" width="2.0" height="2.0" fill="#ba55d3"/>
<rect x="274.0" y="495.0" width="3.0" height="2.0" fill="#3c3cff"/>
<rect x="284.0" y="487.0" width="3.0" height="2.0" fill="#ba55d3"/>
<rect x="284.0" y="489.0" width="3.0" height="2.0" fill="#ffd700"/>
<rect x="284.0" y="515.0" width="3.0" height="2.0" fill="#ba55d3"/>
<rect x="327.0" y="482.0" width="2.0" height="2.0" fill="#ba55d3"/>
<rect x="327.0" y="500.0" width="2.0" height="2.0" fill="#ba55d3"/>
<rect x="327.0" y="519.0" width="2.0" height="2.0" fill="#ba55d3"/>
<rect x="327.0" y="523.0" width="2.0" height="1.0" fill="#00bfff"/>
<rect x="327.0" y="537.0" width="2.0" height="2.0" fill="#3c3cff"/>
<rect x="253.0" y="597.0" width="2.0" height="2.0" fill="#ba55d3"/>
<rect x="253.0" y="610.0" width="2.0" height="2.0" fill="#ba55d3"/>
<rect x="253.0" y="621.0" width="2.0" height="2.0" fill="#ba55d3"/>
<rect x="255.0" y="623.0" width="1.0" height="2.0" fill="#ffd700"/>
<rect x="253.0" y="628.0" width="2.0" height="2.0" fill="#ba55d3"/>
<rect x="227.0" y="640.0" width="26.0" height="1.0" fill="#3c3cff"/>
<rect x="253.0" y="640.0" width="2.0" height="1.0" fill="#ba55d3"/>
<rect x="253.0" y="645.0" width="2.0" height="2.0" fill="#3c3cff"/>
<rect x="253.0" y="653.0" width="2.0" height="1.0" fill="#ba55d3"/>
<rect x="253.0" y="658.0" width="2.0" height="2.0" fill="#ba55d3"/>
<rect x="255.0" y="660.0" width="1.0" height="2.0" fill="#00ffff"/>
<rect x="253.0" y="677.0" width="2.0" height="2.0" fill="#ba55d3"/>
<rect x="255.0" y="679.0" width="1.0" height="1.0" fill="#00ffff"/>
<rect x="319.0" y="580.0" width="4.0" height="2.0" fill="#00bfff"/>
<rect x="323.6" y="606.0" width="1.4" height="2.0" fill="#00bfff"/>
<rect x="323.6" y="619.0" width="1.4" height="2.0" fill="#ba55d3"/>
<rect x="313.0" y="656.0" width="2.0" height="2.0" fill="#ba55d3"/>
<rect x="327.0" y="593.0" width="2.0" height="2.0" fill="#ba55d3"/>
<rect x="327.0" y="612.0" width="2.0" height="2.0" fill="#00bfff"/>
<rect x="327.0" y="630.0" width="2.0" height="2.0" fill="#ba55d3"/>
<rect x="327.0" y="649.0" width="2.0" height="2.0" fill="#00bfff"/>
<rect x="327.0" y="667.0" width="2.0" height="2.0" fill="#ba55d3"/>
<rect x="327.0" y="671.0" width="2.0" height="2.0" fill="#ba55d3"/>
<rect x="253.0" y="690.0" width="2.0" height="2.0" fill="#ba55d3"/>
<rect x="253.0" y="695.0" width="2.0" height="2.0" fill="#ba55d3"/>
<rect x="253.0" y="701.0" width="2.0" height="2.0" fill="#3c3cff"/>
<rect x="253.0" y="703.0" width="2.0" height="2.0" fill="#ba55d3"/>
<rect x="253.0" y="708.0" width="2.0" height="2.0" fill="#ba55d3"/>
<rect x="253.0" y="716.0" width="2.0" height="2.0" fill="#ba55d3"/>
<rect x="255.0" y="729.0" width="1.0" height="2.0" fill="#ffd700"/>
<rect x="253.0" y="732.0" width="2.0" height="2.0" fill="#ba55d3"/>
<rect x="274.0" y="725.0" width="3.0" height="4.0" fill="#ba55d3"/>
<rect x="294.0" y="729.0" width="10.0" height="2.0" fill="#ffd700"/>
<rect x="315.0" y="693.0" width="4.0" height="2.0" fill="#00bfff"/>
<rect x="327.0" y="686.0" width="2.0" height="2.0" fill="#ba55d3"/>
<rect x="327.0" y="705.0" width="2.0" height="1.0" fill="#ba55d3"/>
<rect x="327.0" y="723.0" width="2.0" height="2.0" fill="#ba55d3"/>
<line x1="138.5" y1="100" x2="138.5" y2="793" stroke="#b0b0b0" stroke-width="1"/>
<line x1="230.5" y1="100" x2="230.5" y2="793" stroke="#b0b0b0" stroke-width="1"/>
<line x1="323.5" y1="100" x2="323.5" y2="793" stroke="#b0b0b0" stroke-width="1"/>
<line x1="415.5" y1="100" x2="415.5" y2="793" stroke="#b0b0b0" stroke-width="1"/>
<line x1="508.5" y1="100" x2="508.5" y2="793" stroke="#b0b0b0" stroke-width="1"/>
<line x1="600.5" y1="100" x2="600.5" y2="793" stroke="#b0b0b0" stroke-width="1"/>
<line x1="692.5" y1="100" x2="692.5" y2="793" stroke="#b0b0b0" stroke-width="1"/>
<line x1="92" y1="669.5" x2="785" y2="669.5" stroke="#b0b0b0" stroke-width="1"/>
<line x1="92" y1="545.5" x2="785" y2="545.5" stroke="#b0b0b0" stroke-width="1"/>
<line x1="92" y1="421.5" x2="785" y2="421.5" stroke="#b0b0b0" stroke-width="1"/>
<line x1="92" y1="298.5" x2="785" y2="298.5" stroke="#b0b0b0" stroke-width="1"/>
<line x1="92" y1="174.5" x2="785" y2="174.5" stroke="#b0b0b0" stroke-width="1"/>
<line x1="92.5" y1="100" x2="92.5" y2="794" stroke="#000" stroke-width="1.1"/>
<line x1="785.5" y1="100" x2="785.5" y2="794" stroke="#000" stroke-width="1.1"/>
<line x1="92" y1="100.5" x2="786" y2="100.5" stroke="#000" stroke-width="1.1"/>
<line x1="92" y1="793.5" x2="786" y2="793.5" stroke="#000" stroke-width="1.1"/>
<line x1="92.5" y1="793" x2="92.5" y2="796.8" stroke="#000" stroke-width="0.83"/>
<line x1="115.5" y1="793" x2="115.5" y2="796.8" stroke="#000" stroke-width="0.83"/>
<line x1="138.5" y1="793" x2="138.5" y2="798.9" stroke="#000" stroke-width="1.1"/>
<line x1="161.5" y1="793" x2="161.5" y2="796.8" stroke="#000" stroke-width="0.83"/>
<line x1="184.5" y1="793" x2="184.5" y2="796.8" stroke="#000" stroke-width="0.83"/>
<line x1="207.5" y1="793" x2="207.5" y2="796.8" stroke="#000" stroke-width="0.83"/>
<line x1="230.5" y1="793" x2="230.5" y2="798.9" stroke="#000" stroke-width="1.1"/>
<line x1="254.5" y1="793" x2="254.5" y2="796.8" stroke="#000" stroke-width="0.83"/>
<line x1="277.5" y1="793" x2="277.5" y2="796.8" stroke="#000" stroke-width="0.83"/>
<line x1="300.5" y1="793" x2="300.5" y2="796.8" stroke="#000" stroke-width="0.83"/>
<line x1="323.5" y1="793" x2="323.5" y2="798.9" stroke="#000" stroke-width="1.1"/>
<line x1="346.5" y1="793" x2="346.5" y2="796.8" stroke="#000" stroke-width="0.83"/>
<line x1="369.5" y1="793" x2="369.5" y2="796.8" stroke="#000" stroke-width="0.83"/>
<line x1="392.5" y1="793" x2="392.5" y2="796.8" stroke="#000" stroke-width="0.83"/>
<line x1="415.5" y1="793" x2="415.5" y2="798.9" stroke="#000" stroke-width="1.1"/>
<line x1="438.5" y1="793" x2="438.5" y2="796.8" stroke="#000" stroke-width="0.83"/>
<line x1="461.5" y1="793" x2="461.5" y2="796.8" stroke="#000" stroke-width="0.83"/>
<line x1="485.5" y1="793" x2="485.5" y2="796.8" stroke="#000" stroke-width="0.83"/>
<line x1="508.5" y1="793" x2="508.5" y2="798.9" stroke="#000" stroke-width="1.1"/>
<line x1="531.5" y1="793" x2="531.5" y2="796.8" stroke="#000" stroke-width="0.83"/>
<line x1="554.5" y1="793" x2="554.5" y2="796.8" stroke="#000" stroke-width="0.83"/>
<line x1="577.5" y1="793" x2="577.5" y2="796.8" stroke="#000" stroke-width="0.83"/>
<line x1="600.5" y1="793" x2="600.5" y2="798.9" stroke="#000" stroke-width="1.1"/>
<line x1="623.5" y1="793" x2="623.5" y2="796.8" stroke="#000" stroke-width="0.83"/>
<line x1="646.5" y1="793" x2="646.5" y2="796.8" stroke="#000" stroke-width="0.83"/>
<line x1="669.5" y1="793" x2="669.5" y2="796.8" stroke="#000" stroke-width="0.83"/>
<line x1="692.5" y1="793" x2="692.5" y2="798.9" stroke="#000" stroke-width="1.1"/>
<line x1="716.5" y1="793" x2="716.5" y2="796.8" stroke="#000" stroke-width="0.83"/>
<line x1="739.5" y1="793" x2="739.5" y2="796.8" stroke="#000" stroke-width="0.83"/>
<line x1="762.5" y1="793" x2="762.5" y2="796.8" stroke="#000" stroke-width="0.83"/>
<line x1="785.5" y1="793" x2="785.5" y2="798.9" stroke="#000" stroke-width="1.1"/>
<g font-size="17.34"><text x="133.49" y="814.90" textLength="9.42" lengthAdjust="spacingAndGlyphs">2</text></g>
<g font-size="17.34"><text x="225.37" y="814.90" textLength="9.77" lengthAdjust="spacingAndGlyphs">4</text></g>
<g font-size="17.34"><text x="318.08" y="814.90" textLength="10.11" lengthAdjust="spacingAndGlyphs">6</text></g>
<g font-size="17.34"><text x="410.26" y="814.90" textLength="9.88" lengthAdjust="spacingAndGlyphs">8</text></g>
<g font-size="17.34"><text x="497.78" y="814.90" textLength="9.33" lengthAdjust="spacingAndGlyphs">1</text><text x="508.25" y="814.90" textLength="9.77" lengthAdjust="spacingAndGlyphs">0</text></g>
<g font-size="17.34"><text x="590.07" y="814.90" textLength="9.33" lengthAdjust="spacingAndGlyphs">1</text><text x="600.49" y="814.90" textLength="9.42" lengthAdjust="spacingAndGlyphs">2</text></g>
<g font-size="17.34"><text x="681.70" y="814.90" textLength="9.33" lengthAdjust="spacingAndGlyphs">1</text><text x="692.16" y="814.90" textLength="9.77" lengthAdjust="spacingAndGlyphs">4</text></g>
<g font-size="17.34"><text x="774.76" y="814.90" textLength="9.33" lengthAdjust="spacingAndGlyphs">1</text><text x="785.05" y="814.90" textLength="10.11" lengthAdjust="spacingAndGlyphs">6</text></g>
<line x1="87.1" y1="793.5" x2="93" y2="793.5" stroke="#000" stroke-width="1.1"/>
<line x1="89.2" y1="762.5" x2="93" y2="762.5" stroke="#000" stroke-width="0.83"/>
<line x1="89.2" y1="731.5" x2="93" y2="731.5" stroke="#000" stroke-width="0.83"/>
<line x1="89.2" y1="700.5" x2="93" y2="700.5" stroke="#000" stroke-width="0.83"/>
<line x1="87.1" y1="669.5" x2="93" y2="669.5" stroke="#000" stroke-width="1.1"/>
<line x1="89.2" y1="638.5" x2="93" y2="638.5" stroke="#000" stroke-width="0.83"/>
<line x1="89.2" y1="607.5" x2="93" y2="607.5" stroke="#000" stroke-width="0.83"/>
<line x1="89.2" y1="576.5" x2="93" y2="576.5" stroke="#000" stroke-width="0.83"/>
<line x1="87.1" y1="545.5" x2="93" y2="545.5" stroke="#000" stroke-width="1.1"/>
<line x1="89.2" y1="514.5" x2="93" y2="514.5" stroke="#000" stroke-width="0.83"/>
<line x1="89.2" y1="483.5" x2="93" y2="483.5" stroke="#000" stroke-width="0.83"/>
<line x1="89.2" y1="452.5" x2="93" y2="452.5" stroke="#000" stroke-width="0.83"/>
<line x1="87.1" y1="421.5" x2="93" y2="421.5" stroke="#000" stroke-width="1.1"/>
<line x1="89.2" y1="390.5" x2="93" y2="390.5" stroke="#000" stroke-width="0.83"/>
<line x1="89.2" y1="359.5" x2="93" y2="359.5" stroke="#000" stroke-width="0.83"/>
<line x1="89.2" y1="329.5" x2="93" y2="329.5" stroke="#000" stroke-width="0.83"/>
<line x1="87.1" y1="298.5" x2="93" y2="298.5" stroke="#000" stroke-width="1.1"/>
<line x1="89.2" y1="267.5" x2="93" y2="267.5" stroke="#000" stroke-width="0.83"/>
<line x1="89.2" y1="236.5" x2="93" y2="236.5" stroke="#000" stroke-width="0.83"/>
<line x1="89.2" y1="205.5" x2="93" y2="205.5" stroke="#000" stroke-width="0.83"/>
<line x1="87.1" y1="174.5" x2="93" y2="174.5" stroke="#000" stroke-width="1.1"/>
<line x1="89.2" y1="143.5" x2="93" y2="143.5" stroke="#000" stroke-width="0.83"/>
<line x1="89.2" y1="112.5" x2="93" y2="112.5" stroke="#000" stroke-width="0.83"/>
<g font-size="17.34"><text x="71.31" y="798.50" textLength="9.77" lengthAdjust="spacingAndGlyphs">0</text></g>
<g font-size="17.34"><text x="50.06" y="674.50" textLength="9.42" lengthAdjust="spacingAndGlyphs">2</text><text x="60.71" y="674.50" textLength="9.77" lengthAdjust="spacingAndGlyphs">0</text><text x="71.31" y="674.50" textLength="9.77" lengthAdjust="spacingAndGlyphs">0</text></g>
<g font-size="17.34"><text x="50.10" y="550.50" textLength="9.77" lengthAdjust="spacingAndGlyphs">4</text><text x="60.71" y="550.50" textLength="9.77" lengthAdjust="spacingAndGlyphs">0</text><text x="71.31" y="550.50" textLength="9.77" lengthAdjust="spacingAndGlyphs">0</text></g>
<g font-size="17.34"><text x="49.93" y="426.50" textLength="10.11" lengthAdjust="spacingAndGlyphs">6</text><text x="60.71" y="426.50" textLength="9.77" lengthAdjust="spacingAndGlyphs">0</text><text x="71.31" y="426.50" textLength="9.77" lengthAdjust="spacingAndGlyphs">0</text></g>
<g font-size="17.34"><text x="50.05" y="303.50" textLength="9.88" lengthAdjust="spacingAndGlyphs">8</text><text x="60.71" y="303.50" textLength="9.77" lengthAdjust="spacingAndGlyphs">0</text><text x="71.31" y="303.50" textLength="9.77" lengthAdjust="spacingAndGlyphs">0</text></g>
<g font-size="17.34"><text x="39.64" y="179.50" textLength="9.33" lengthAdjust="spacingAndGlyphs">1</text><text x="50.10" y="179.50" textLength="9.77" lengthAdjust="spacingAndGlyphs">0</text><text x="60.71" y="179.50" textLength="9.77" lengthAdjust="spacingAndGlyphs">0</text><text x="71.31" y="179.50" textLength="9.77" lengthAdjust="spacingAndGlyphs">0</text></g>
<g font-size="24.96" stroke="#fff" stroke-width="0.2"><text x="337.36" y="841.80" textLength="12.96" lengthAdjust="spacingAndGlyphs">F</text><text x="348.94" y="841.80" textLength="10.24" lengthAdjust="spacingAndGlyphs">r</text><text x="358.39" y="841.80" textLength="14.42" lengthAdjust="spacingAndGlyphs">e</text><text x="373.16" y="841.80" textLength="14.49" lengthAdjust="spacingAndGlyphs">q</text><text x="388.53" y="841.80" textLength="14.39" lengthAdjust="spacingAndGlyphs">u</text><text x="403.60" y="841.80" textLength="14.42" lengthAdjust="spacingAndGlyphs">e</text><text x="418.60" y="841.80" textLength="14.39" lengthAdjust="spacingAndGlyphs">n</text><text x="433.66" y="841.80" textLength="12.04" lengthAdjust="spacingAndGlyphs">c</text><text x="447.20" y="841.80" textLength="12.89" lengthAdjust="spacingAndGlyphs">y</text><text x="469.13" y="841.80" textLength="7.07" lengthAdjust="spacingAndGlyphs">(</text><text x="478.14" y="841.80" textLength="19.93" lengthAdjust="spacingAndGlyphs">M</text><text x="498.85" y="841.80" textLength="17.24" lengthAdjust="spacingAndGlyphs">H</text><text x="516.49" y="841.80" textLength="12.86" lengthAdjust="spacingAndGlyphs">z</text><text x="530.89" y="841.80" textLength="7.07" lengthAdjust="spacingAndGlyphs">)</text></g>
<g transform="translate(28.00,559.70) rotate(-90)" font-size="24.96" stroke="#fff" stroke-width="0.2"><text x="-0.11" y="0.00" textLength="16.25" lengthAdjust="spacingAndGlyphs">V</text><text x="16.35" y="0.00" textLength="5.45" lengthAdjust="spacingAndGlyphs">i</text><text x="22.54" y="0.00" textLength="10.24" lengthAdjust="spacingAndGlyphs">r</text><text x="32.44" y="0.00" textLength="8.67" lengthAdjust="spacingAndGlyphs">t</text><text x="42.03" y="0.00" textLength="14.39" lengthAdjust="spacingAndGlyphs">u</text><text x="57.41" y="0.00" textLength="12.00" lengthAdjust="spacingAndGlyphs">a</text><text x="72.20" y="0.00" textLength="5.45" lengthAdjust="spacingAndGlyphs">l</text><text x="86.26" y="0.00" textLength="14.49" lengthAdjust="spacingAndGlyphs">h</text><text x="101.32" y="0.00" textLength="14.42" lengthAdjust="spacingAndGlyphs">e</text><text x="116.49" y="0.00" textLength="5.45" lengthAdjust="spacingAndGlyphs">i</text><text x="122.76" y="0.00" textLength="14.51" lengthAdjust="spacingAndGlyphs">g</text><text x="138.14" y="0.00" textLength="14.49" lengthAdjust="spacingAndGlyphs">h</text><text x="153.15" y="0.00" textLength="8.67" lengthAdjust="spacingAndGlyphs">t</text><text x="170.77" y="0.00" textLength="7.07" lengthAdjust="spacingAndGlyphs">(</text><text x="179.75" y="0.00" textLength="13.42" lengthAdjust="spacingAndGlyphs">k</text><text x="193.65" y="0.00" textLength="22.78" lengthAdjust="spacingAndGlyphs">m</text><text x="218.46" y="0.00" textLength="7.07" lengthAdjust="spacingAndGlyphs">)</text></g>
<g font-size="30.24" stroke="#fff" stroke-width="0.3"><text x="151.47" y="31.70" textLength="20.54" lengthAdjust="spacingAndGlyphs">N</text><text x="172.69" y="31.70" textLength="19.35" lengthAdjust="spacingAndGlyphs">A</text><text x="192.61" y="31.70" textLength="16.48" lengthAdjust="spacingAndGlyphs">L</text><text x="217.68" y="31.70" textLength="19.31" lengthAdjust="spacingAndGlyphs">C</text><text x="237.70" y="31.70" textLength="19.35" lengthAdjust="spacingAndGlyphs">A</text><text x="257.61" y="31.70" textLength="21.52" lengthAdjust="spacingAndGlyphs">D</text><text x="279.42" y="31.70" textLength="8.46" lengthAdjust="spacingAndGlyphs">I</text><text x="297.08" y="31.70" textLength="10.34" lengthAdjust="spacingAndGlyphs">-</text><text x="316.77" y="31.70" textLength="19.35" lengthAdjust="spacingAndGlyphs">A</text><text x="336.90" y="31.70" textLength="17.43" lengthAdjust="spacingAndGlyphs">p</text><text x="354.75" y="31.70" textLength="12.29" lengthAdjust="spacingAndGlyphs">r</text><text x="376.29" y="31.70" textLength="16.88" lengthAdjust="spacingAndGlyphs">0</text><text x="394.61" y="31.70" textLength="16.89" lengthAdjust="spacingAndGlyphs">4</text><text x="422.02" y="31.70" textLength="16.27" lengthAdjust="spacingAndGlyphs">2</text><text x="440.34" y="31.70" textLength="16.27" lengthAdjust="spacingAndGlyphs">2</text><text x="458.56" y="31.70" textLength="8.66" lengthAdjust="spacingAndGlyphs">:</text><text x="468.44" y="31.70" textLength="16.89" lengthAdjust="spacingAndGlyphs">4</text><text x="487.13" y="31.70" textLength="15.93" lengthAdjust="spacingAndGlyphs">5</text><text x="504.91" y="31.70" textLength="8.66" lengthAdjust="spacingAndGlyphs">:</text><text x="514.79" y="31.70" textLength="16.88" lengthAdjust="spacingAndGlyphs">0</text><text x="533.24" y="31.70" textLength="16.52" lengthAdjust="spacingAndGlyphs">7</text><text x="560.52" y="31.70" textLength="16.27" lengthAdjust="spacingAndGlyphs">2</text><text x="578.92" y="31.70" textLength="16.88" lengthAdjust="spacingAndGlyphs">0</text><text x="597.17" y="31.70" textLength="16.27" lengthAdjust="spacingAndGlyphs">2</text><text x="615.81" y="31.70" textLength="16.13" lengthAdjust="spacingAndGlyphs">1</text><text x="642.65" y="31.70" textLength="20.44" lengthAdjust="spacingAndGlyphs">U</text><text x="662.62" y="31.70" textLength="19.19" lengthAdjust="spacingAndGlyphs">T</text><text x="679.64" y="31.70" textLength="19.31" lengthAdjust="spacingAndGlyphs">C</text></g>
<rect x="816" y="82" width="31" height="90" fill="#00bfff"/>
<line x1="846.5" y1="127.5" x2="851.4" y2="127.5" stroke="#000" stroke-width="1.1"/>
<g font-size="17.34"><text x="855.89" y="133.20" textLength="11.89" lengthAdjust="spacingAndGlyphs">N</text><text x="868.36" y="133.20" textLength="11.89" lengthAdjust="spacingAndGlyphs">N</text><text x="880.97" y="133.20" textLength="9.83" lengthAdjust="spacingAndGlyphs">E</text></g>
<rect x="816" y="172" width="31" height="90" fill="#00ffff"/>
<line x1="846.5" y1="217.5" x2="851.4" y2="217.5" stroke="#000" stroke-width="1.1"/>
<g font-size="17.34"><text x="856.03" y="223.20" textLength="9.83" lengthAdjust="spacingAndGlyphs">E</text></g>
<rect x="816" y="262" width="31" height="90" fill="#ffd700"/>
<line x1="846.5" y1="307.5" x2="851.4" y2="307.5" stroke="#000" stroke-width="1.1"/>
<g font-size="17.34"><text x="856.02" y="313.20" textLength="9.91" lengthAdjust="spacingAndGlyphs">S</text><text x="866.61" y="313.20" textLength="9.91" lengthAdjust="spacingAndGlyphs">S</text><text x="877.19" y="313.20" textLength="9.83" lengthAdjust="spacingAndGlyphs">E</text></g>
<rect x="816" y="352" width="31" height="90" fill="#ffb6c1"/>
<line x1="846.5" y1="397.5" x2="851.4" y2="397.5" stroke="#000" stroke-width="1.1"/>
<g font-size="17.34"><text x="856.02" y="403.20" textLength="9.91" lengthAdjust="spacingAndGlyphs">S</text><text x="866.61" y="403.20" textLength="9.91" lengthAdjust="spacingAndGlyphs">S</text><text x="877.24" y="403.20" textLength="15.51" lengthAdjust="spacingAndGlyphs">W</text></g>
<rect x="816" y="442" width="31" height="90" fill="#ba55d3"/>
<line x1="846.5" y1="487.5" x2="851.4" y2="487.5" stroke="#000" stroke-width="1.1"/>
<g font-size="17.34"><text x="856.08" y="493.20" textLength="15.51" lengthAdjust="spacingAndGlyphs">W</text></g>
<rect x="816" y="532" width="31" height="90" fill="#3c3cff"/>
<line x1="846.5" y1="577.5" x2="851.4" y2="577.5" stroke="#000" stroke-width="1.1"/>
<g font-size="17.34"><text x="855.89" y="583.20" textLength="11.89" lengthAdjust="spacingAndGlyphs">N</text><text x="868.36" y="583.20" textLength="11.89" lengthAdjust="spacingAndGlyphs">N</text><text x="881.02" y="583.20" textLength="15.51" lengthAdjust="spacingAndGlyphs">W</text></g>
<rect x="816" y="622" width="31" height="90" fill="#ff0000"/>
<line x1="846.5" y1="667.5" x2="851.4" y2="667.5" stroke="#000" stroke-width="1.1"/>
<g font-size="17.34"><text x="855.66" y="673.20" textLength="11.28" lengthAdjust="spacingAndGlyphs">V</text><text x="865.91" y="673.20" textLength="10.01" lengthAdjust="spacingAndGlyphs">e</text><text x="876.11" y="673.20" textLength="7.11" lengthAdjust="spacingAndGlyphs">r</text><text x="882.98" y="673.20" textLength="6.02" lengthAdjust="spacingAndGlyphs">t</text><text x="889.83" y="673.20" textLength="3.79" lengthAdjust="spacingAndGlyphs">i</text><text x="894.24" y="673.20" textLength="8.36" lengthAdjust="spacingAndGlyphs">c</text><text x="903.56" y="673.20" textLength="8.34" lengthAdjust="spacingAndGlyphs">a</text><text x="913.83" y="673.20" textLength="3.79" lengthAdjust="spacingAndGlyphs">l</text></g>
<rect x="816" y="712" width="31" height="90" fill="#008000"/>
<line x1="846.5" y1="757.5" x2="851.4" y2="757.5" stroke="#000" stroke-width="1.1"/>
<g font-size="17.34"><text x="855.72" y="763.20" textLength="11.13" lengthAdjust="spacingAndGlyphs">X</text><text x="866.16" y="763.20" textLength="5.98" lengthAdjust="spacingAndGlyphs">-</text><text x="872.41" y="763.20" textLength="15.82" lengthAdjust="spacingAndGlyphs">m</text><text x="888.57" y="763.20" textLength="9.86" lengthAdjust="spacingAndGlyphs">o</text><text x="898.76" y="763.20" textLength="10.08" lengthAdjust="spacingAndGlyphs">d</text><text x="909.33" y="763.20" textLength="10.01" lengthAdjust="spacingAndGlyphs">e</text></g>
<line x1="846.5" y1="82.5" x2="850.0" y2="82.5" stroke="#000" stroke-width="0.83"/>
<line x1="846.5" y1="172.5" x2="850.0" y2="172.5" stroke="#000" stroke-width="0.83"/>
<line x1="846.5" y1="262.5" x2="850.0" y2="262.5" stroke="#000" stroke-width="0.83"/>
<line x1="846.5" y1="352.5" x2="850.0" y2="352.5" stroke="#000" stroke-width="0.83"/>
<line x1="846.5" y1="442.5" x2="850.0" y2="442.5" stroke="#000" stroke-width="0.83"/>
<line x1="846.5" y1="532.5" x2="850.0" y2="532.5" stroke="#000" stroke-width="0.83"/>
<line x1="846.5" y1="622.5" x2="850.0" y2="622.5" stroke="#000" stroke-width="0.83"/>
<line x1="846.5" y1="712.5" x2="850.0" y2="712.5" stroke="#000" stroke-width="0.83"/>
<line x1="846.5" y1="802.5" x2="850.0" y2="802.5" stroke="#000" stroke-width="0.83"/>
<rect x="816.5" y="82.5" width="30" height="720" fill="none" stroke="#000" stroke-width="1.1"/>
<g transform="translate(943.00,549.65) rotate(-90)" font-size="24.96" stroke="#fff" stroke-width="0.2"><text x="-0.05" y="0.00" textLength="16.13" lengthAdjust="spacingAndGlyphs">A</text><text x="16.22" y="0.00" textLength="12.86" lengthAdjust="spacingAndGlyphs">z</text><text x="29.45" y="0.00" textLength="5.45" lengthAdjust="spacingAndGlyphs">i</text><text x="35.86" y="0.00" textLength="22.78" lengthAdjust="spacingAndGlyphs">m</text><text x="59.23" y="0.00" textLength="14.39" lengthAdjust="spacingAndGlyphs">u</text><text x="74.26" y="0.00" textLength="8.67" lengthAdjust="spacingAndGlyphs">t</text><text x="83.87" y="0.00" textLength="14.49" lengthAdjust="spacingAndGlyphs">h</text><text x="106.65" y="0.00" textLength="17.93" lengthAdjust="spacingAndGlyphs">D</text><text x="125.44" y="0.00" textLength="5.45" lengthAdjust="spacingAndGlyphs">i</text><text x="131.62" y="0.00" textLength="10.24" lengthAdjust="spacingAndGlyphs">r</text><text x="141.07" y="0.00" textLength="14.42" lengthAdjust="spacingAndGlyphs">e</text><text x="155.92" y="0.00" textLength="12.04" lengthAdjust="spacingAndGlyphs">c</text><text x="168.98" y="0.00" textLength="8.67" lengthAdjust="spacingAndGlyphs">t</text><text x="178.84" y="0.00" textLength="5.45" lengthAdjust="spacingAndGlyphs">i</text><text x="185.14" y="0.00" textLength="14.19" lengthAdjust="spacingAndGlyphs">o</text><text x="200.04" y="0.00" textLength="14.39" lengthAdjust="spacingAndGlyphs">n</text></g>
</svg></body></html>
